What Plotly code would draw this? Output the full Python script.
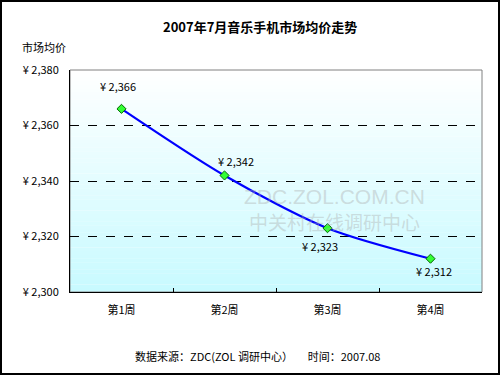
import plotly.graph_objects as go

categories = ["第1周", "第2周", "第3周", "第4周"]
prices = [2366, 2342, 2323, 2312]
label_texts = ["¥ 2,366", "¥ 2,342", "¥ 2,323", "¥ 2,312"]
y_ticks = [2300, 2320, 2340, 2360, 2380]
y_tick_labels = ["¥ 2,300", "¥ 2,320", "¥ 2,340", "¥ 2,360", "¥ 2,380"]

W, H = 500, 375
L, R, T, B = 70, 18, 70, 83
PW, PH = W - L - R, H - T - B

def px(x):
    return (x - L) / PW

def py(y):
    return (H - B - y) / PH

FONT = "Noto Sans CJK SC, Noto Sans, sans-serif"

fig = go.Figure()
fig.add_trace(go.Scatter(
    x=categories, y=prices, mode="lines+markers",
    line=dict(color="#0000FF", width=2.2, shape="spline", smoothing=0.8),
    marker=dict(symbol="diamond", size=7, color="#33FF33",
                line=dict(color="#006600", width=1)),
    hoverinfo="skip", showlegend=False,
))

shapes = []
# gradient background
n = 60
top = (255, 255, 255)
bot = (200, 250, 255)
for i in range(n):
    t = (i + 0.5) / n
    c = tuple(round(top[k] + (bot[k] - top[k]) * t) for k in range(3))
    shapes.append(dict(type="rect", xref="paper", yref="paper",
                       x0=0, x1=1, y0=1 - (i + 1) / n, y1=1 - i / n + 0.001,
                       fillcolor="rgb(%d,%d,%d)" % c, line=dict(width=0),
                       layer="below"))
# plot frame (gray top/right)
shapes.append(dict(type="rect", xref="paper", yref="paper", x0=0, x1=1, y0=0, y1=1,
                   line=dict(color="#808080", width=1), layer="below"))
# outer border
shapes.append(dict(type="rect", xref="paper", yref="paper",
                   x0=px(1), x1=px(W - 1), y0=py(H - 1), y1=py(1),
                   line=dict(color="#000000", width=2), layer="above"))

offsets = [(-4, 23), (11, 14), (-8, -18), (3, -12)]
annotations = []
for cat, v, txt, (dx, dy) in zip(categories, prices, label_texts, offsets):
    annotations.append(dict(x=cat, y=v, xref="x", yref="y", text=txt,
                            showarrow=False, xshift=dx, yshift=dy,
                            xanchor="center", yanchor="middle",
                            font=dict(family=FONT, size=11, color="#000000")))

annotations += [
    dict(x=px(260), y=py(26), xref="paper", yref="paper",
         xanchor="center", yanchor="middle",
         text="<b>2007年7月音乐手机市场均价走势</b>", showarrow=False,
         font=dict(family=FONT, size=13, color="#000000")),
    dict(x=px(20), y=py(47), xref="paper", yref="paper", xanchor="left",
         yanchor="middle", text="市场均价", showarrow=False,
         font=dict(family=FONT, size=11, color="#000000")),
    dict(x=px(257), y=py(356), xref="paper", yref="paper",
         xanchor="center", yanchor="middle",
         text="数据来源：ZDC(ZOL 调研中心）&nbsp;&nbsp;&nbsp;&nbsp;&nbsp;&nbsp;时间：2007.08",
         showarrow=False, font=dict(family=FONT, size=11, color="#000000")),
    dict(x=px(334), y=py(210), xref="paper", yref="paper",
         xanchor="center", yanchor="middle",
         text=("<span style=\"font-size:21px;font-family:'Liberation Sans'\">ZDC.ZOL.COM.CN</span>"
               "<br><span style=\"font-size:19px\">中关村在线调研中心</span>"),
         showarrow=False,
         font=dict(family=FONT, size=20, color="rgba(170,170,170,0.4)")),
]

fig.update_layout(
    width=W, height=H,
    margin=dict(l=L, r=R, t=T, b=B, pad=0),
    paper_bgcolor="#FFFFFF", plot_bgcolor="rgba(0,0,0,0)",
    font=dict(family=FONT, size=11, color="#000000"),
    shapes=shapes, annotations=annotations, showlegend=False,
    xaxis=dict(type="category", categoryorder="array", categoryarray=categories,
               range=[-0.5, 3.5], showgrid=False, showline=True,
               linecolor="#000000", linewidth=1,
               ticks="inside", ticklen=4, tickcolor="#000000",
               tickson="boundaries", ticklabelstandoff=8,
               tickfont=dict(family=FONT, size=11, color="#000000"), fixedrange=True),
    yaxis=dict(range=[2300, 2380], tickvals=y_ticks, ticktext=y_tick_labels,
               showgrid=True, gridcolor="#000000", griddash="dash", gridwidth=1,
               showline=True, linecolor="#000000", linewidth=1, ticks="",
               zeroline=False, ticklabelstandoff=8,
               tickfont=dict(family=FONT, size=11, color="#000000"), fixedrange=True),
)

fig.write_html("out.html", config={"displayModeBar": False},
               post_script="document.body.style.margin='0';document.body.style.overflow='hidden';")
